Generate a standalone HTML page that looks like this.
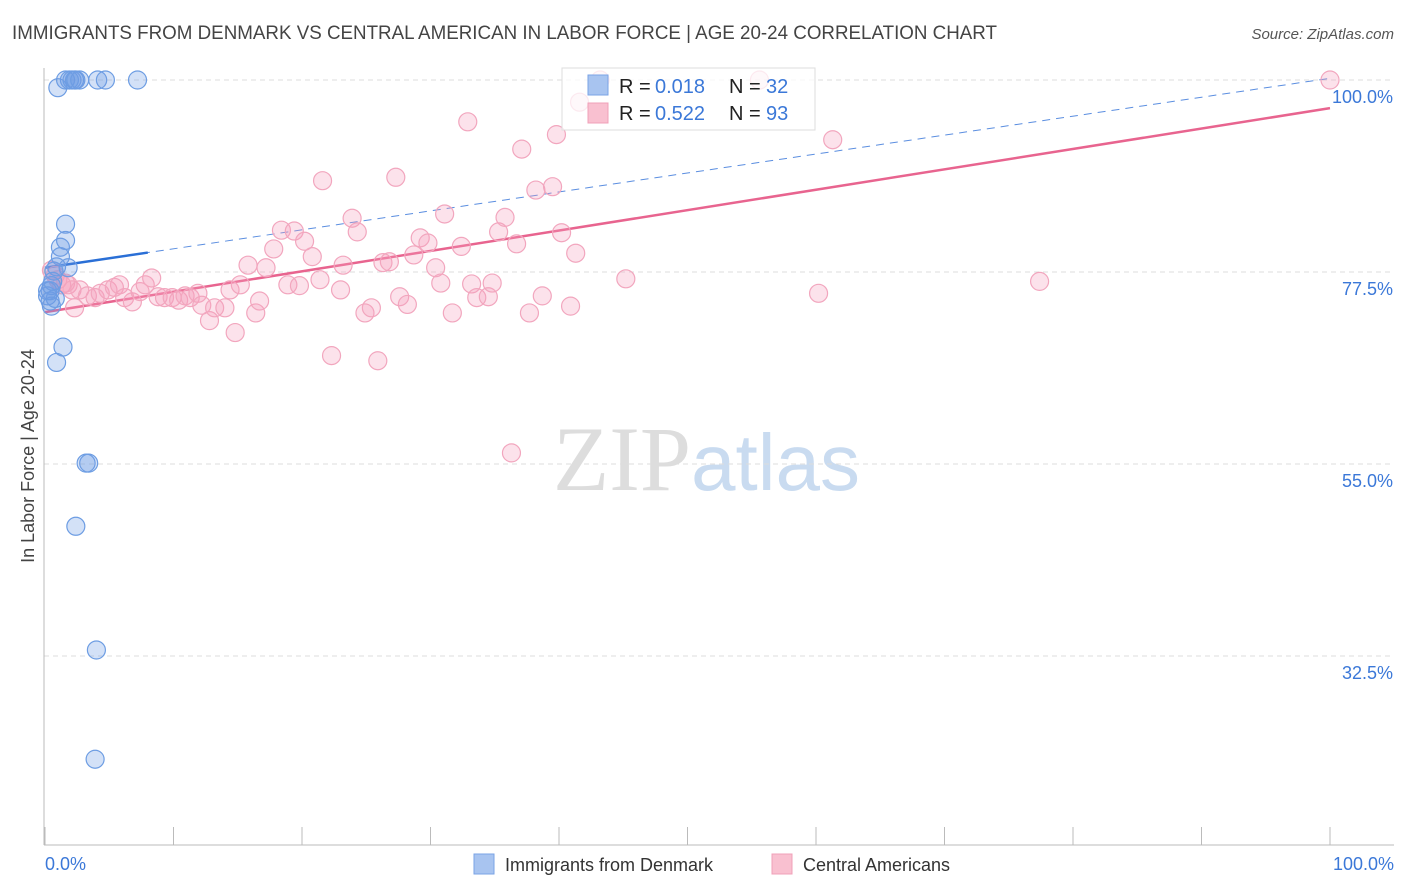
<!DOCTYPE html>
<html><head><meta charset="utf-8"><style>
body{margin:0;background:#fff;font-family:"Liberation Sans",sans-serif;}
svg{display:block}
</style></head><body>
<svg id="chart" width="1406" height="892" xmlns="http://www.w3.org/2000/svg" font-family="Liberation Sans, sans-serif">
<text x="12" y="39" font-size="19" fill="#444" textLength="985" lengthAdjust="spacingAndGlyphs">IMMIGRANTS FROM DENMARK VS CENTRAL AMERICAN IN LABOR FORCE | AGE 20-24 CORRELATION CHART</text>
<text x="1394" y="39" font-size="15" fill="#555" text-anchor="end" font-style="italic">Source: ZipAtlas.com</text>
<text x="553" y="490" font-size="92" fill="#ddd" font-family="Liberation Serif, serif">ZIP<tspan fill="#c9dbf0" font-family="Liberation Sans, sans-serif" font-size="80">atlas</tspan></text>
<g id="grid"></g>
<line x1="44" y1="68" x2="44" y2="845" stroke="#bbb"/>
<line x1="44" y1="845" x2="1394" y2="845" stroke="#bbb"/>
<g id="xticks"></g>
<text transform="translate(34,456) rotate(-90)" font-size="18" fill="#444" text-anchor="middle">In Labor Force | Age 20-24</text>
<text x="45" y="870" font-size="18" fill="#3b78d8">0.0%</text>
<text x="1394" y="870" font-size="18" fill="#3b78d8" text-anchor="end">100.0%</text>
<g id="lines"></g>
<g id="pts"></g>
<g>
<rect x="562" y="68" width="253" height="62" fill="#fff" fill-opacity="0.75" stroke="#ddd"/>
<rect x="588" y="75" width="20" height="20" fill="#a8c4f0" stroke="#7aa3e6"/>
<rect x="588" y="103" width="20" height="20" fill="#f9c0d0" stroke="#f0a0b8"/>
<text x="619" y="93" font-size="20" fill="#222">R =</text>
<text x="655" y="93" font-size="20" fill="#3b78d8">0.018</text>
<text x="729" y="93" font-size="20" fill="#222">N =</text>
<text x="766" y="93" font-size="20" fill="#3b78d8">32</text>
<text x="619" y="120" font-size="20" fill="#222">R =</text>
<text x="655" y="120" font-size="20" fill="#3b78d8">0.522</text>
<text x="729" y="120" font-size="20" fill="#222">N =</text>
<text x="766" y="120" font-size="20" fill="#3b78d8">93</text>
</g>
<g>
<rect x="474" y="854" width="20" height="20" fill="#a8c4f0" stroke="#7aa3e6"/>
<text x="505" y="871" font-size="18" fill="#333">Immigrants from Denmark</text>
<rect x="772" y="854" width="20" height="20" fill="#f9c0d0" stroke="#f0a0b8"/>
<text x="803" y="871" font-size="18" fill="#333">Central Americans</text>
</g>
</svg>
<script>
const yTicks=[100,77.5,55,32.5];
const yTickLabels=["100.0%","77.5%","55.0%","32.5%"];
const xTickVals=[0,10,20,30,40,50,60,70,80,90,100];
const blueX=[1.0,1.6,1.9,2.1,2.3,2.4,2.7,4.1,4.7,7.2,1.6,1.6,1.2,1.2,0.9,1.8,0.7,0.5,0.4,0.2,0.4,0.5,0.8,1.4,0.9,3.2,3.4,2.4,4.0,3.9,0.2,0.6];
const blueY=[99.1,100,100,100,100,100,100,100,100,100,83.1,81.2,80.4,79.3,78.1,78.0,77.6,75.9,75.3,74.7,74.1,73.5,74.4,68.7,66.9,55.1,55.1,47.7,33.2,20.4,75.3,76.4];
const redX=[0.5,0.8,1.0,1.3,1.6,1.8,2.1,2.3,2.7,3.3,3.9,4.3,4.9,5.4,5.8,6.2,6.8,7.4,7.8,8.3,8.8,9.3,9.9,10.4,10.9,11.3,11.9,12.2,12.8,13.2,14.0,14.4,14.8,15.2,15.8,16.4,16.7,17.2,17.8,18.4,18.9,19.4,19.8,20.2,20.8,21.4,21.6,22.3,23.0,23.2,23.9,24.3,24.9,25.4,25.9,26.3,26.8,27.3,27.6,28.2,28.7,29.2,29.8,30.4,30.8,31.1,31.7,32.4,32.9,33.2,33.6,34.5,34.8,35.3,35.8,36.3,36.7,37.1,37.7,38.2,38.7,39.5,39.8,40.2,40.9,41.3,45.2,55.6,60.2,61.3,77.4,100,41.6,43.2];
const redY=[77.7,77.1,76.6,76.0,76.2,76.0,75.4,73.3,75.4,74.7,74.5,75.0,75.4,75.7,76.0,74.5,74.0,75.2,76.0,76.8,74.6,74.5,74.5,74.2,74.7,74.5,75.0,73.6,71.8,73.3,73.3,75.4,70.4,76.0,78.3,72.7,74.1,78.0,80.2,82.4,76.0,82.3,75.9,81.1,79.3,76.6,88.2,67.7,75.4,78.3,83.8,82.2,72.7,73.3,67.1,78.6,78.7,88.6,74.6,73.7,79.5,81.5,80.9,78.0,76.2,84.3,72.7,80.5,95.1,76.1,74.5,74.6,76.2,82.2,83.9,56.3,80.8,91.9,72.7,87.1,74.7,87.5,93.6,82.1,73.5,79.7,76.7,100,75.0,93.0,76.4,100,97.4,100];
const blueLine=[78.0,100.2], redLine=[72.8,96.7];
const sx=v=>45+v*12.85, sy=v=>80+(100-v)*8.533;
const NS="http://www.w3.org/2000/svg";
function mk(t,a,p){const e=document.createElementNS(NS,t);for(const k in a)e.setAttribute(k,a[k]);p.appendChild(e);return e;}
const grid=document.getElementById('grid');
yTicks.forEach((v,i)=>{
 const l=mk('line',{x1:44,x2:1394,y1:sy(v),y2:sy(v),stroke:'#ddd','stroke-dasharray':'5,4'},grid);
 
 
 const t=mk('text',{x:1393,y:sy(v)+23,'font-size':18,fill:'#3b78d8','text-anchor':'end'},grid);
 t.textContent=yTickLabels[i];
 
 
});
const xt=document.getElementById('xticks');
xTickVals.forEach(v=>{
 const l=mk('line',{x1:sx(v),x2:sx(v),y1:827,y2:845,stroke:'#bbb'},xt);
 
 
});
const pts=document.getElementById('pts');
redX.forEach((x,i)=>{
 const c=mk('circle',{cx:sx(x),cy:sy(redY[i]),r:9,fill:'rgba(244,160,188,0.3)',stroke:'#f2a6be','stroke-width':1.2},pts);
 
 
});
blueX.forEach((x,i)=>{
 const c=mk('circle',{cx:sx(x),cy:sy(blueY[i]),r:9,fill:'rgba(110,155,230,0.3)',stroke:'#6d9de3','stroke-width':1.2},pts);
 
 
});
const lines=document.getElementById('lines');
const bl=v=>blueLine[0]+(blueLine[1]-blueLine[0])*v/100;
const rl=v=>redLine[0]+(redLine[1]-redLine[0])*v/100;
let e=mk('line',{x1:sx(0),y1:sy(bl(0)),x2:sx(100),y2:sy(bl(100)),stroke:'#5b8ee0','stroke-width':1,'stroke-dasharray':'8,6'},lines);


e=mk('line',{x1:sx(0),y1:sy(bl(0)),x2:sx(8),y2:sy(bl(8)),stroke:'#2a6fd6','stroke-width':2.5},lines);


e=mk('line',{x1:sx(0),y1:sy(rl(0)),x2:sx(100),y2:sy(rl(100)),stroke:'#e8648f','stroke-width':2.5},lines);


</script>
</body></html>
